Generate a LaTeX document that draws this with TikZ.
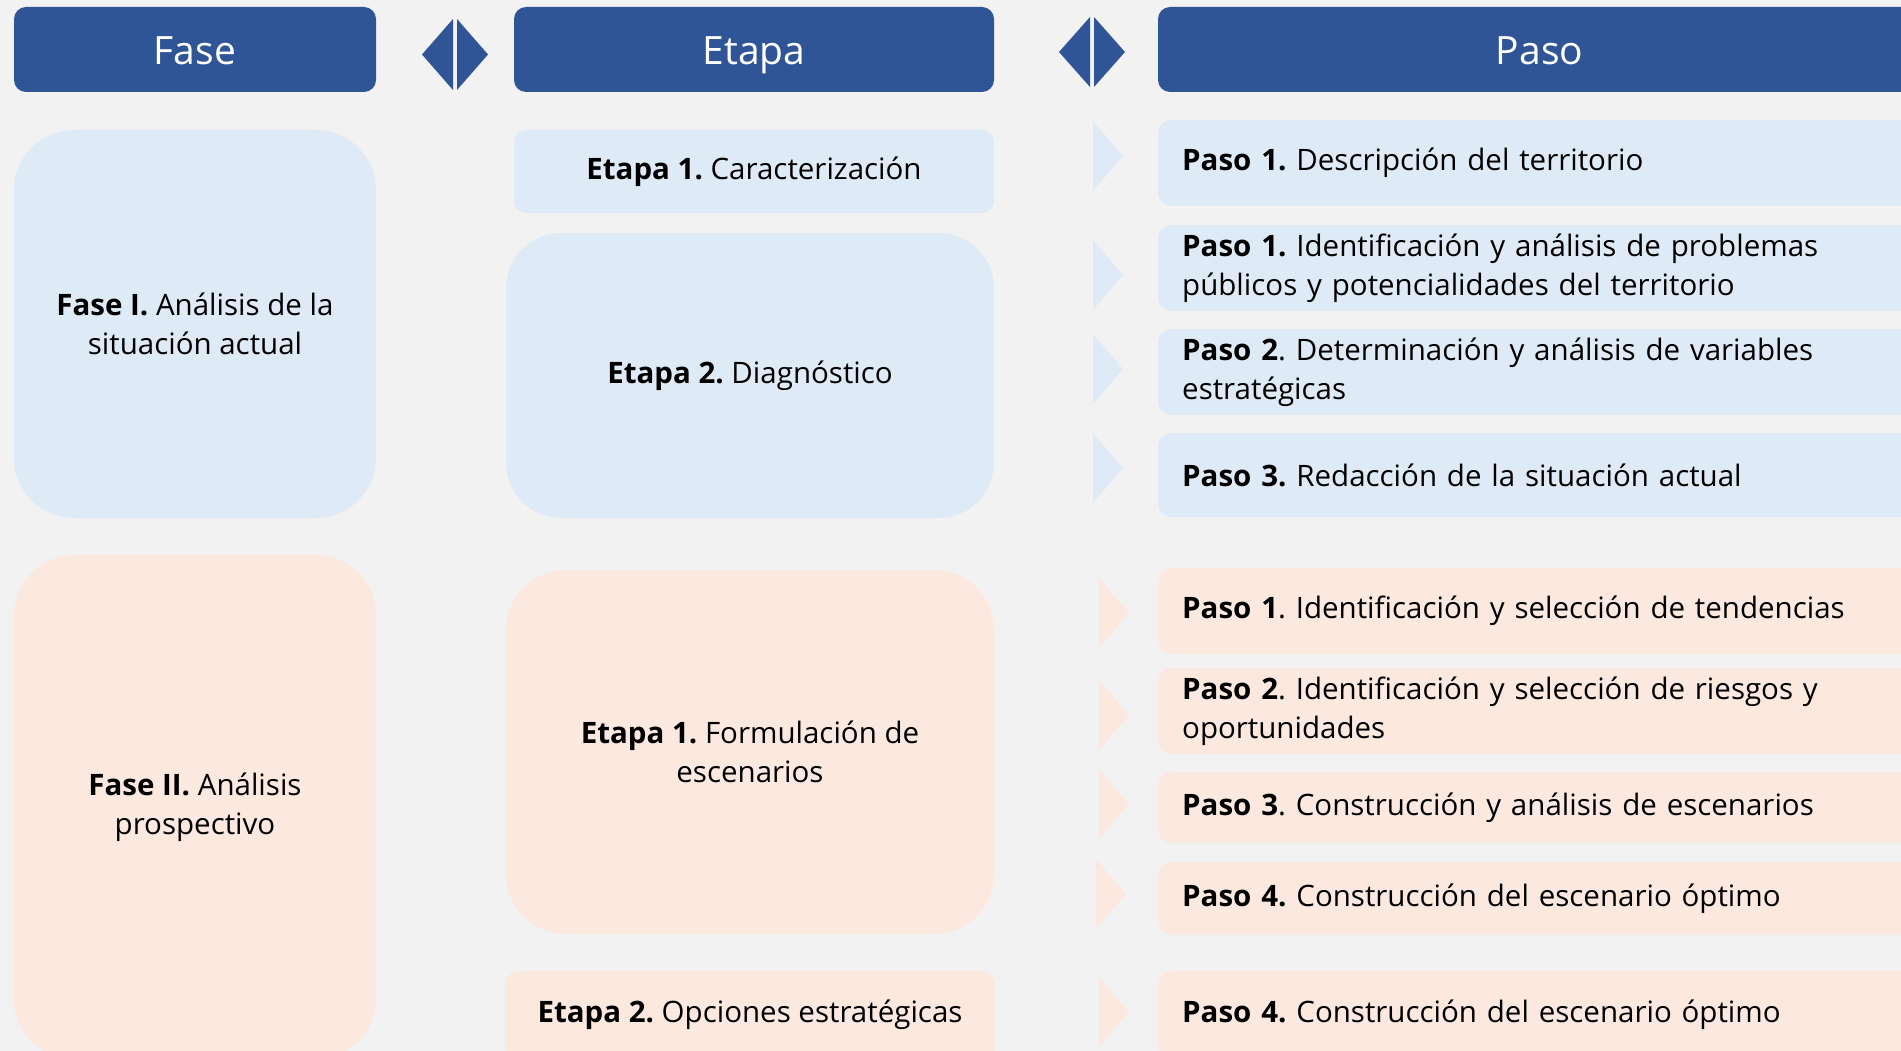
\documentclass[tikz,border=0pt]{standalone}
\usepackage{fontspec}
\setmainfont{Open Sans}
\frenchspacing
\definecolor{headblue}{HTML}{2F5597}
\definecolor{paleblue}{HTML}{DEEBF7}
\definecolor{palerose}{HTML}{FBE9E0}
\definecolor{canvas}{HTML}{F2F2F2}
\newcommand\bodyfont{\fontsize{29.5}{39}\selectfont}
\tikzset{%
  every header/.style={
    fill=headblue,
    text=white,
    rounded corners=12pt,
    minimum height=85pt,
    inner sep=0pt,
    text height=31pt,
    text depth=0pt,
    font=\fontsize{39}{47}\selectfont
  },
  every block/.style={
    align=center,
    inner sep=0pt,
    font=\bodyfont
  },
  block blue/.style={fill=paleblue},
  block rose/.style={fill=palerose},
  every paso/.style={
    anchor=west,
    minimum width=763pt,
    text width=715pt,
    inner xsep=24pt,
    inner ysep=0pt,
    align=left,
    rounded corners=13pt,
    font=\bodyfont
  },
}

\begin{document}
\begin{tikzpicture}[x=1pt, y=-1pt]

\clip (0,0) rectangle (1901,1051);
\fill[canvas] (0,0) rectangle (1901,1051);

% headers
\node [every header/.try, minimum width=362pt] (fase) at (195,49.5) {Fase};
\node [every header/.try, minimum width=480pt] (etapa) at (754,49.5) {Etapa};
\node [every header/.try, minimum width=763pt] (paso) at (1539.5,49.5) {Paso};

\foreach \x/\t/\b in {455/19/90, 1092/17/87} {
  \fill[headblue] (\x-2,\t) -- (\x-2,\b) -- (\x-33,{(\t+\b)/2}) -- cycle;
  \fill[headblue] (\x+2,\t) -- (\x+33,{(\t+\b)/2}) -- (\x+2,\b) -- cycle;
}

% fase I
\node [every block/.try, block blue, rounded corners=60pt,
  minimum width=362pt, minimum height=388pt] (faseI) at (195,324)
  {\textbf{Fase I.} Análisis de la\\situación actual};
\node [every block/.try, block blue, rounded corners=12pt,
  minimum width=480pt, minimum height=83pt] (etapaI-1) at (754,171.5)
  {\textbf{Etapa 1.} Caracterización};
\node [every block/.try, block blue, rounded corners=55pt,
  minimum width=488pt, minimum height=285pt] (etapaI-2) at (750,375.5)
  {\textbf{Etapa 2.} Diagnóstico};

\foreach \y/\h/\l [count=\i] in {
    163/86/{\textbf{Paso 1.} Descripción del territorio},
    268/86/{\textbf{Paso 1.} Identificación y análisis de problemas\\públicos y potencialidades del territorio},
    372/86/{\textbf{Paso 2}. Determinación y análisis de variables\\estratégicas},
    475/84/{\textbf{Paso 3.} Redacción de la situación actual}}
  \node [every paso/.try, block blue, minimum height=\h pt] (pasoI-\i) at (1158,\y) {\l};

\foreach \y in {156,275,369,468}
  \fill[paleblue] (1093,\y-35) -- (1123,\y) -- (1093,\y+35) -- cycle;

% fase II
\node [every block/.try, block rose, rounded corners=60pt,
  minimum width=362pt, minimum height=504pt] (faseII) at (195,807)
  {\textbf{Fase II.} Análisis\\prospectivo};
\node [every block/.try, block rose, rounded corners=60pt,
  minimum width=488pt, minimum height=364pt] (etapaII-1) at (750,752)
  {\textbf{Etapa 1.} Formulación de\\escenarios};
\node [every block/.try, block rose, rounded corners=14pt,
  minimum width=490pt, minimum height=88pt] (etapaII-2) at (750,1015)
  {\textbf{Etapa 2.} Opciones estratégicas};

\foreach \y/\h/\l [count=\i] in {
    611/86/{\textbf{Paso 1}. Identificación y selección de tendencias},
    711/86/{\textbf{Paso 2}. Identificación y selección de riesgos y\\oportunidades},
    807.5/71/{\textbf{Paso 3}. Construcción y análisis de escenarios},
    898.5/73/{\textbf{Paso 4.} Construcción del escenario óptimo},
    1015/88/{\textbf{Paso 4.} Construcción del escenario óptimo}}
  \node [every paso/.try, block rose, minimum height=\h pt] (pasoII-\i) at (1158,\y) {\l};

\foreach \x/\y in {1099/613, 1099/715, 1099/804, 1096/894, 1099/1012}
  \fill[palerose] (\x,\y-35) -- (\x+30,\y) -- (\x,\y+35) -- cycle;

\end{tikzpicture}
\end{document}
